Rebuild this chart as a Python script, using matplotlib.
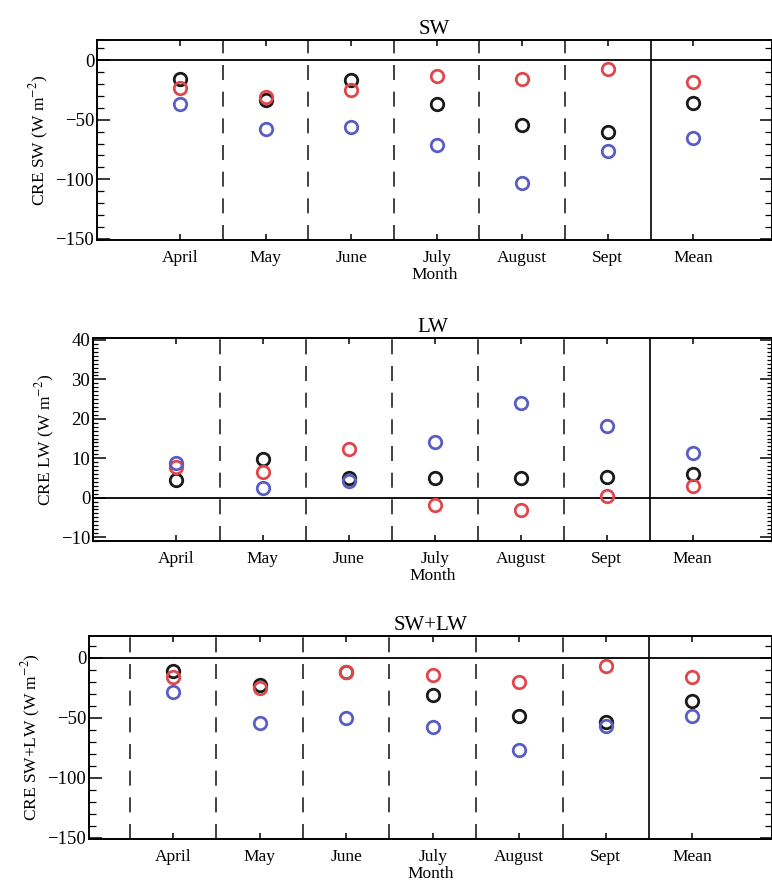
import matplotlib
matplotlib.use("Agg")
import matplotlib.pyplot as plt
from matplotlib.ticker import MultipleLocator

plt.rcParams['font.family'] = ['Liberation Serif', 'DejaVu Serif']
plt.rcParams['mathtext.fontset'] = 'stix'

categories = ['April', 'May', 'June', 'July', 'August', 'Sept', 'Mean']

sw_black = [-16, -33, -17, -37, -54, -60, -36]
sw_red   = [-23, -31, -25, -13, -16, -7.5, -18]
sw_blue  = [-37, -58, -56, -71, -103, -76, -65]

lw_black = [4.4, 9.9, 5.0, 4.9, 5.1, 5.3, 6.0]
lw_red   = [7.9, 6.5, 12.4, -1.8, -3.2, 0.3, 3.0]
lw_blue  = [8.7, 2.4, 4.1, 14.1, 23.9, 18.2, 11.3]

net_black = [-11.5, -23, -12, -31, -48.6, -54, -36]
net_red   = [-16.4, -25.4, -12.3, -14.8, -20, -6.8, -16]
net_blue  = [-28.7, -54.6, -50.5, -57.4, -77, -56.6, -49]

panels = [
    dict(title='SW', ylabel='CRE SW (W m$^{-2}$)', data=(sw_black, sw_red, sw_blue),
         ylim=(-151, 17), major=50, minor=10, box=(97, 772, 40, 240), first_div=False),
    dict(title='LW', ylabel='CRE LW (W m$^{-2}$)', data=(lw_black, lw_red, lw_blue),
         ylim=(-11, 40.5), major=10, minor=1, box=(93, 772, 338, 541), first_div=False),
    dict(title='SW+LW', ylabel='CRE SW+LW (W m$^{-2}$)', data=(net_black, net_red, net_blue),
         ylim=(-151, 18), major=50, minor=10, box=(89, 772, 636, 839), first_div=True),
]

W, H = 772, 884
fig = plt.figure(figsize=(W / 100, H / 100), dpi=100)
colors = ['#1a1a1a', '#e0474d', '#5a5ec2']
x = list(range(1, len(categories) + 1))

for p in panels:
    l, r, t, b = p['box']
    ax = fig.add_axes([l / W, 1 - b / H, (r - l) / W, (b - t) / H])
    ax.set_xlim(0.03, 7.92)
    ax.set_ylim(*p['ylim'])
    ax.axhline(0, color='black', lw=1.3, zorder=1)
    divs = [0.5, 1.5, 2.5, 3.5, 4.5, 5.5] if p['first_div'] else [1.5, 2.5, 3.5, 4.5, 5.5]
    for d in divs:
        ax.axvline(d, color='#222222', lw=1.2, ls=(0, (9, 7)), zorder=1)
    ax.axvline(6.5, color='black', lw=1.2, zorder=1)
    for vals, c in zip(p['data'], colors):
        ax.plot(x, vals, ls='none', marker='o', ms=9, mfc='none', mec=c, mew=2.0, zorder=3)
    ax.set_xticks(x)
    ax.set_xticklabels(categories, fontsize=12.5)
    ax.yaxis.set_major_locator(MultipleLocator(p['major']))
    ax.yaxis.set_minor_locator(MultipleLocator(p['minor']))
    ax.tick_params(axis='y', which='major', direction='in', length=9, width=1.1,
                   left=True, right=True, labelsize=13.5, pad=2)
    ax.tick_params(axis='y', which='minor', direction='in',
                   length=(5 if p['minor'] == 10 else 3.5), width=0.9, left=True, right=True)
    ax.tick_params(axis='x', which='major', direction='in', length=4, width=1.1,
                   top=True, bottom=True, pad=7)
    ax.tick_params(axis='x', which='minor', bottom=False, top=False)
    ax.set_xlabel('Month', fontsize=12.5, labelpad=1)
    ax.set_ylabel(p['ylabel'], fontsize=12.5, labelpad=3)
    ax.set_title(p['title'], fontsize=15, pad=4)
    for s in ax.spines.values():
        s.set_linewidth(1.4)

fig.savefig('out.png', dpi=100)
